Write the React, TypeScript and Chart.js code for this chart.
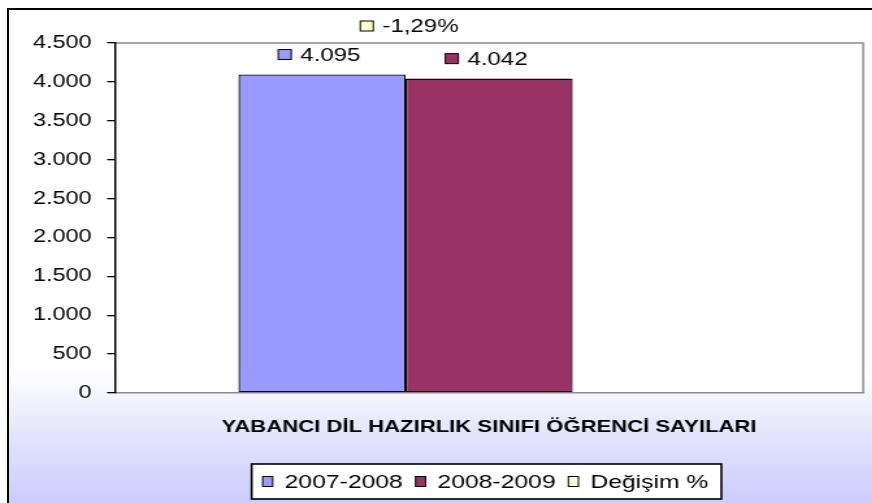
import React, { useEffect, useRef } from "react";
import { Chart, registerables } from "chart.js";

Chart.register(...registerables);

// ---- data ----
const categories = ["YABANCI DİL HAZIRLIK SINIFI ÖĞRENCİ SAYILARI"];
const seriesNames = ["2007-2008", "2008-2009", "Değişim %"];
const values2007 = [4095];
const values2008 = [4042];
const valuesChange = [-1.29];
const yTickValues = [0, 500, 1000, 1500, 2000, 2500, 3000, 3500, 4000, 4500];
const seriesColors = ["#9999ff", "#993366", "#ffffcc"];

// ---- styling ----
const SX = 1.3; // horizontal stretch of the reference image
const FONT = '"Liberation Sans", Arial, sans-serif';
const CW = 665;
const CH = 493;

function fmtThousands(v: number): string {
  const s = Math.round(Math.abs(v))
    .toString()
    .replace(/\B(?=(\d{3})+(?!\d))/g, ".");
  return (v < 0 ? "-" : "") + s;
}
function fmtPct(v: number): string {
  return v.toFixed(2).replace(".", ",") + "%";
}

const framePlugin = {
  id: "frame",
  beforeDraw(chart: any) {
    const { ctx, chartArea: a } = chart;
    ctx.save();
    ctx.fillStyle = "#ffffff";
    ctx.fillRect(a.left, a.top, a.right - a.left, a.bottom - a.top);
    ctx.strokeStyle = "#8c8c8c";
    ctx.lineWidth = 1.5;
    ctx.beginPath();
    ctx.moveTo(a.left, a.top);
    ctx.lineTo(a.right, a.top);
    ctx.lineTo(a.right, a.bottom);
    ctx.stroke();
    ctx.restore();
  },
};

function drawKeyLabel(ctx: any, cx: number, cy: number, color: string, text: string) {
  ctx.font = `18.5px ${FONT}`;
  const tw = ctx.measureText(text).width;
  const sq = 10;
  const gap = 7;
  const total = sq + gap + tw;
  const x0 = cx - total / 2;
  ctx.fillStyle = color;
  ctx.fillRect(x0, cy - sq / 2, sq, sq);
  ctx.strokeStyle = "#000";
  ctx.lineWidth = 1;
  ctx.strokeRect(x0, cy - sq / 2, sq, sq);
  ctx.fillStyle = "#000";
  ctx.textAlign = "left";
  ctx.textBaseline = "middle";
  ctx.fillText(text, x0 + sq + gap, cy + 1);
}

const labelsPlugin = {
  id: "valueLabels",
  afterDatasetsDraw(chart: any) {
    const { ctx, chartArea: a } = chart;
    ctx.save();
    const b0 = chart.getDatasetMeta(0).data[0];
    const b1 = chart.getDatasetMeta(1).data[0];
    chart.data.datasets.forEach((ds: any, i: number) => {
      const el = chart.getDatasetMeta(i).data[0];
      const v = ds.data[0];
      if (i < 2) {
        drawKeyLabel(ctx, el.x - 2, el.y - 20, ds.backgroundColor, fmtThousands(v));
      } else {
        drawKeyLabel(ctx, (b0.x + b1.x) / 2 + 3, a.top - 17, ds.backgroundColor, fmtPct(v));
      }
    });
    ctx.restore();
  },
};

const legendPlugin = {
  id: "boxLegend",
  afterDraw(chart: any) {
    const { ctx, chartArea: a } = chart;
    ctx.save();
    ctx.font = `19px ${FONT}`;
    const sqW = 7.7;
    const sqH = 10;
    const gap = 9.2;
    const itemGap = 9.8;
    const padL = 8.5;
    const padR = 10;
    const items = chart.data.datasets.map((ds: any) => ({
      label: ds.label,
      color: ds.backgroundColor,
      w: ctx.measureText(ds.label).width,
    }));
    const content =
      items.reduce((s: number, it: any) => s + sqW + gap + it.w, 0) + itemGap * (items.length - 1);
    const boxW = padL + content + padR;
    const cx = (a.left + a.right) / 2 - 2;
    const top = 454;
    const h = 35;
    const left = cx - boxW / 2;
    ctx.fillStyle = "#ffffff";
    ctx.fillRect(left, top, boxW, h);
    ctx.strokeStyle = "#000";
    ctx.lineWidth = 1.6;
    ctx.strokeRect(left, top, boxW, h);
    const cy = top + h / 2;
    let x = left + padL;
    items.forEach((it: any) => {
      ctx.fillStyle = it.color;
      ctx.fillRect(x, cy - sqH / 2, sqW, sqH);
      ctx.strokeStyle = "#000";
      ctx.lineWidth = 1;
      ctx.strokeRect(x, cy - sqH / 2, sqW, sqH);
      ctx.fillStyle = "#000";
      ctx.textAlign = "left";
      ctx.textBaseline = "middle";
      ctx.fillText(it.label, x + sqW + gap, cy + 1);
      x += sqW + gap + it.w + itemGap;
    });
    ctx.restore();
  },
};

export default function App() {
  const ref = useRef<HTMLCanvasElement | null>(null);

  useEffect(() => {
    if (!ref.current) return;
    const chart = new Chart(ref.current, {
      type: "bar",
      data: {
        labels: categories,
        datasets: [
          {
            label: seriesNames[0],
            data: values2007,
            backgroundColor: seriesColors[0],
            borderColor: "#000",
            borderWidth: 1.3,
            borderSkipped: false,
            barPercentage: 1,
            categoryPercentage: 0.67,
          },
          {
            label: seriesNames[1],
            data: values2008,
            backgroundColor: seriesColors[1],
            borderColor: "#000",
            borderWidth: 1.3,
            borderSkipped: false,
            barPercentage: 1,
            categoryPercentage: 0.67,
          },
          {
            label: seriesNames[2],
            data: valuesChange,
            backgroundColor: seriesColors[2],
            borderColor: "#000",
            borderWidth: 0,
            barPercentage: 1,
            categoryPercentage: 0.67,
          },
        ],
      },
      options: {
        responsive: false,
        animation: false,
        devicePixelRatio: 1,
        layout: { padding: { left: 0, top: 33, right: 7.9, bottom: 0 } },
        plugins: {
          legend: { display: false },
          title: { display: false },
          tooltip: { enabled: false },
        },
        scales: {
          x: {
            afterFit: (s: any) => {
              s.height = 110;
            },
            ticks: {
              color: "#000",
              font: { family: FONT, size: 17, weight: "bold" },
              padding: 24,
              maxRotation: 0,
              autoSkip: false,
            },
            grid: { display: true, drawOnChartArea: false, drawTicks: false, tickLength: 0 },
            border: { display: true, color: "#8c8c8c", width: 1.5 },
          },
          y: {
            min: 0,
            max: 4500,
            afterFit: (s: any) => {
              s.width = 81.5;
            },
            afterBuildTicks: (s: any) => {
              s.ticks = yTickValues.map((v) => ({ value: v }));
            },
            ticks: {
              color: "#000",
              font: { family: FONT, size: 18 },
              padding: 12,
              callback: (v: any) => fmtThousands(Number(v)),
            },
            grid: {
              display: true,
              drawOnChartArea: false,
              drawTicks: true,
              tickLength: 6,
              color: "#000",
              lineWidth: 1.3,
            },
            border: { display: true, color: "#000", width: 1.5 },
          },
        },
      },
      plugins: [framePlugin, labelsPlugin, legendPlugin],
    } as any);
    return () => chart.destroy();
  }, []);

  return (
    <div
      style={{
        position: "absolute",
        left: 7,
        top: 8,
        width: 865,
        height: 495,
        boxSizing: "border-box",
        borderLeft: "2px solid #000",
        borderTop: "2px solid #000",
        overflow: "hidden",
        background:
          "linear-gradient(to bottom, #ffffff 0px, #ffffff 360px, #e4e4fd 425px, #cbcbfd 495px)",
      }}
    >
      <canvas
        ref={ref}
        width={CW}
        height={CH}
        style={{
          display: "block",
          width: CW + "px",
          height: CH + "px",
          transform: `scaleX(${SX})`,
          transformOrigin: "0 0",
        }}
      />
    </div>
  );
}
